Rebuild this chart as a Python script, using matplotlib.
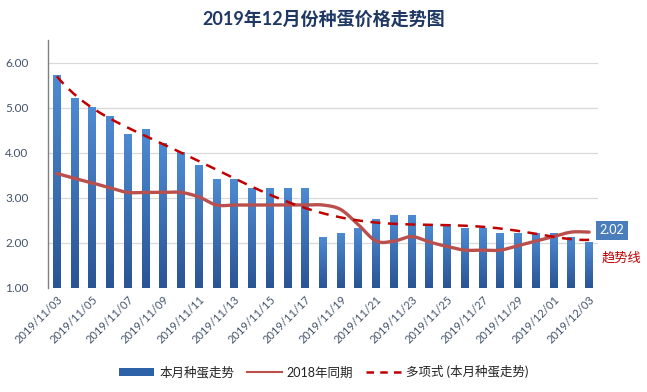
import numpy as np
import matplotlib
matplotlib.use("Agg")
import matplotlib.pyplot as plt
from matplotlib.lines import Line2D
from matplotlib.patches import Patch
from matplotlib.colors import LinearSegmentedColormap

plt.rcParams['font.family'] = ['Lato', 'Noto Sans CJK SC', 'DejaVu Sans']

dates = ["2019/11/%02d" % d for d in range(3, 31)] + ["2019/12/01", "2019/12/02", "2019/12/03"]
this_month = [5.72, 5.22, 5.02, 4.82, 4.42, 4.52, 4.22, 4.02, 3.72, 3.42, 3.42,
              3.22, 3.22, 3.22, 3.22, 2.12, 2.22, 2.32, 2.52, 2.62, 2.62, 2.42,
              2.42, 2.32, 2.32, 2.22, 2.22, 2.22, 2.22, 2.12, 2.02]
last_year = [3.54, 3.43, 3.33, 3.22, 3.12, 3.12, 3.12, 3.12, 3.02, 2.84, 2.84,
             2.84, 2.84, 2.84, 2.84, 2.84, 2.74, 2.40, 2.04, 2.04, 2.14, 2.02,
             1.92, 1.84, 1.84, 1.84, 1.94, 2.04, 2.14, 2.24, 2.24]
y_ticks = [1, 2, 3, 4, 5, 6]
title = "2019年12月份种蛋价格走势图"
legend_labels = ["本月种蛋走势", "2018年同期", "多项式 (本月种蛋走势)"]
trend_order = 6

BAR_TOP = "#4E8BD3"
BAR_BOT = "#2A5494"
LINE_C = "#B9504D"
TREND_C = "#C00000"
TXT_C = "#44546A"


def catmull_rom(xs, ys, n=20):
    xs = np.asarray(xs, float)
    ys = np.asarray(ys, float)
    px = np.concatenate([[xs[0]], xs, [xs[-1]]])
    py = np.concatenate([[ys[0]], ys, [ys[-1]]])
    outx, outy = [], []
    t = np.linspace(0, 1, n, endpoint=False)
    for i in range(1, len(px) - 2):
        p0, p1, p2, p3 = (np.array([px[j], py[j]]) for j in (i - 1, i, i + 1, i + 2))
        c1 = p1 + (p2 - p0) / 6
        c2 = p2 - (p3 - p1) / 6
        b = ((1 - t) ** 3)[:, None] * p1 + (3 * (1 - t) ** 2 * t)[:, None] * c1 + \
            (3 * (1 - t) * t ** 2)[:, None] * c2 + (t ** 3)[:, None] * p2
        outx.extend(b[:, 0]); outy.extend(b[:, 1])
    outx.append(xs[-1]); outy.append(ys[-1])
    return np.array(outx), np.array(outy)


fig = plt.figure(figsize=(6.47, 3.92), dpi=100)
ax = fig.add_axes([48 / 647, 1 - 288 / 392, 550 / 647, 248 / 392])

x = np.arange(len(dates))
bars = ax.bar(x, this_month, width=0.45, color=BAR_TOP, zorder=2)

# vertical gradient inside each bar
grad = np.linspace(0, 1, 256).reshape(-1, 1)
cmap = LinearSegmentedColormap.from_list("g", [BAR_BOT, BAR_TOP])
for b in bars:
    x0, y0 = b.get_x(), b.get_y()
    w, h = b.get_width(), b.get_height()
    im = ax.imshow(grad, cmap=cmap, aspect='auto', origin='lower',
                   extent=[x0, x0 + w, 1.0, y0 + h], zorder=2.1)
    im.set_clip_path(b)

sx, sy = catmull_rom(x, last_year)
ax.plot(sx, sy, color=LINE_C, lw=2.4, zorder=3, solid_capstyle='round')

coef = np.polyfit(x + 1, this_month, trend_order)
xx = np.linspace(0, len(x) - 1, 300)
ax.plot(xx, np.polyval(coef, xx + 1), color=TREND_C, lw=1.8, ls=(0, (4, 3)), zorder=4)

ax.set_xlim(-0.5, len(x) - 0.5)
ax.set_ylim(1, 6.5)
ax.set_yticks(y_ticks)
ax.set_yticklabels(["%.2f" % v for v in y_ticks])
ax.set_xticks(x[::2])
ax.set_xticklabels(dates[::2], rotation=45, ha='right', rotation_mode='anchor')
ax.tick_params(axis='both', length=0, colors=TXT_C, labelsize=8)
ax.tick_params(axis='y', pad=14, labelsize=8.5)
ax.tick_params(axis='x', pad=4)
ax.grid(axis='y', color="#D9D9D9", lw=0.9, zorder=0)
ax.set_axisbelow(True)
for s in ['top', 'right', 'bottom']:
    ax.spines[s].set_visible(False)
ax.spines['left'].set_color("#808080")
ax.spines['left'].set_linewidth(1.0)

# data label for last bar
ax.text(len(x) - 0.4, 2.28, "%.2f" % this_month[-1], color='white', fontsize=9,
        ha='left', va='center', clip_on=False, zorder=5,
        bbox=dict(boxstyle='square,pad=0.3', fc="#4A7EBB", ec='none'))
ax.text(len(x) - 0.3, 1.68, "趋势线", color=TREND_C, fontsize=9.5,
        ha='left', va='center', clip_on=False)

fig.text(0.5, 1 - 19 / 392, title, ha='center', va='center', fontsize=13,
         fontweight='bold', color="#1F3864")

handles = [Patch(facecolor="#2E62A8", edgecolor='none'),
           Line2D([0], [0], color=LINE_C, lw=1.5),
           Line2D([0], [0], color=TREND_C, lw=1.8, ls=(0, (3, 2.5)))]
fig.legend(handles, legend_labels, loc='center', bbox_to_anchor=(0.5, 1 - 372 / 392),
           ncol=3, frameon=False, fontsize=9, handlelength=2.8, handleheight=0.6,
           columnspacing=1.0, handletextpad=0.4, labelcolor="#222222")

fig.savefig("out.png", dpi=100, facecolor='white')
